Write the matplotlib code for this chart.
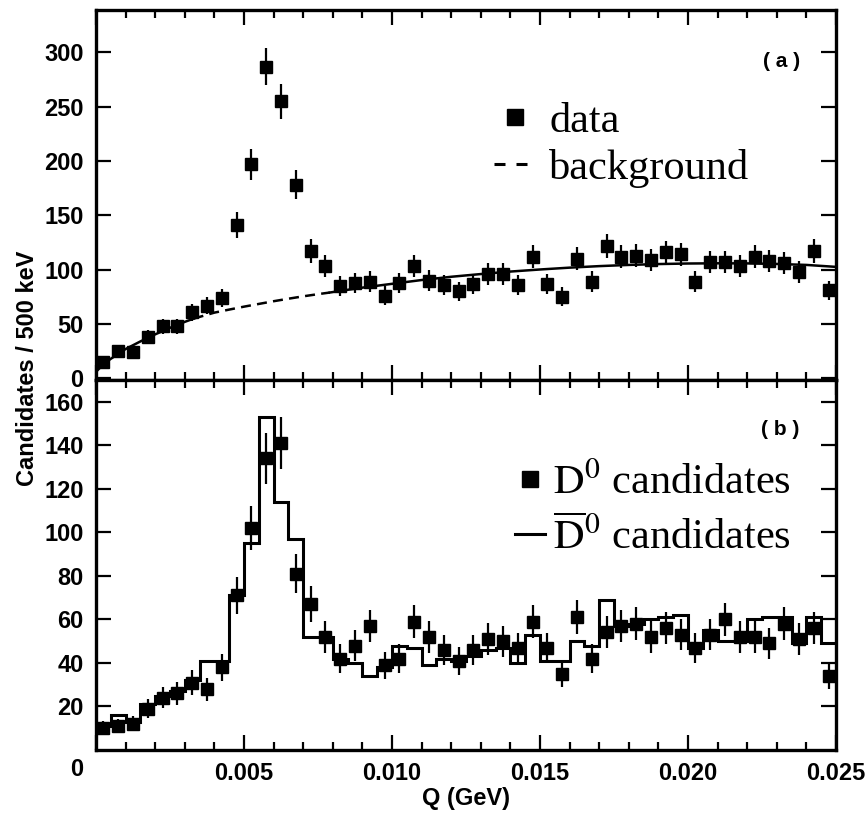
import numpy as np
import matplotlib
matplotlib.use("Agg")
import matplotlib.pyplot as plt
from matplotlib.lines import Line2D
from matplotlib.ticker import MultipleLocator, FixedLocator

plt.rcParams["font.family"] = ["Liberation Sans", "DejaVu Sans"]
plt.rcParams["mathtext.fontset"] = "stix"

# ── Data (500 keV bins from 0 to 25 MeV) ─────────────────────────────────────
bin_edges = np.linspace(0.0, 0.025, 51)
bin_centres = 0.5 * (bin_edges[:-1] + bin_edges[1:])

# (a) all candidates
data_a = [15, 25, 24, 38, 48, 48, 61, 67, 74, 141,
          197, 287, 255, 178, 117, 103, 85, 88, 89, 76,
          88, 103, 90, 86, 80, 87, 96, 96, 86, 112,
          87, 75, 110, 89, 122, 112, 113, 109, 116, 114,
          89, 107, 107, 103, 112, 108, 106, 98, 117, 81]

# background fit
bg_q = [0, 0.00025, 0.0005, 0.001, 0.0015, 0.002, 0.0025, 0.003, 0.0033,
        0.004, 0.0045, 0.005, 0.0055, 0.006, 0.0065, 0.007, 0.0075, 0.0079,
        0.0085, 0.009, 0.010, 0.011, 0.012, 0.013, 0.014, 0.015, 0.016,
        0.017, 0.018, 0.019, 0.020, 0.021, 0.022, 0.023, 0.024, 0.025]
bg_val = [6, 13, 18, 27, 34, 40.5, 46.5, 52, 55,
          60.5, 63.3, 66, 68.5, 71, 73.3, 75.5, 77.5, 79,
          81.5, 83.5, 87, 90.5, 93.5, 96, 98.3, 100.2, 101.9,
          103.3, 104.4, 105.2, 105.7, 105.9, 105.8, 105.3, 104.4, 102.6]
dash_from, dash_to = 0.0033, 0.0079

# (b) D0 candidates (points) and D0bar candidates (histogram)
d0 = [10, 11, 12, 19, 24, 26, 31, 28, 38, 71,
      102, 134, 141, 81, 67, 52, 42, 48, 57, 39,
      42, 59, 52, 46, 41, 46, 51, 50, 47, 59,
      47, 35, 61, 42, 54, 57, 58, 52, 56, 53,
      47, 53, 60, 52, 52, 49, 58, 51, 56, 34]
d0bar = [11, 16, 13, 21, 25, 27, 32, 41, 41, 71,
         95, 153, 114, 97, 52, 52, 42, 40, 34, 38,
         48, 47, 39, 42, 41, 43, 46, 47, 40, 53,
         41, 41, 50, 48, 69, 57, 58, 60, 61, 62,
         47, 55, 50, 50, 60, 61, 61, 49, 61, 49]

x_ticks = [0.0, 0.005, 0.010, 0.015, 0.020, 0.025]
x_ticklabels = ["", "0.005", "0.010", "0.015", "0.020", "0.025"]
ya_ticks = [0, 50, 100, 150, 200, 250, 300]
yb_ticks = [20, 40, 60, 80, 100, 120, 140, 160]

# ── Figure ───────────────────────────────────────────────────────────────────
fig = plt.figure(figsize=(8.68, 8.16), dpi=100, facecolor="white")
L, W = 96 / 868, 740 / 868
ax_a = fig.add_axes([L, 1 - 380 / 816, W, 370 / 816])
ax_b = fig.add_axes([L, 1 - 750 / 816, W, 370 / 816])

TICK_FONT = dict(fontsize=17, fontweight="bold")
LEG_FONT = {"family": "Liberation Serif", "size": 30.5}


def _frame(ax):
    for s in ax.spines.values():
        s.set_linewidth(2.4)
    ax.set_xlim(0, 0.025)
    ax.xaxis.set_major_locator(FixedLocator(x_ticks))
    ax.xaxis.set_minor_locator(MultipleLocator(0.001))
    ax.tick_params(which="both", direction="in", top=True, right=True, width=1.6)
    ax.tick_params(which="major", length=11, pad=9)
    ax.tick_params(which="minor", length=6)


# panel (a)
q = np.asarray(bg_q)
v = np.asarray(bg_val)
ax_a.errorbar(bin_centres, data_a, yerr=np.sqrt(data_a), fmt="s", color="black",
              ms=8, elinewidth=1.6, capsize=0, zorder=3)
lo = q <= dash_from
mid = (q >= dash_from) & (q <= dash_to)
hi = q >= dash_to
ax_a.plot(q[lo], v[lo], color="black", lw=1.8)
ax_a.plot(q[mid], v[mid], color="black", lw=1.8, dashes=(4, 2.5))
ax_a.plot(q[hi], v[hi], color="black", lw=1.8)
ax_a.set_ylim(-1.5, 339)
ax_a.set_yticks(ya_ticks)
ax_a.set_yticklabels([str(t) for t in ya_ticks], **TICK_FONT)
_frame(ax_a)
ax_a.set_xticklabels([])
ax_a.text(0.951, 0.86, "( a )", transform=ax_a.transAxes, ha="right", va="center",
          fontsize=15, fontweight="bold")
ax_a.legend(
    handles=[Line2D([], [], ls="none", marker="s", color="black", ms=11),
             Line2D([], [], color="black", lw=2.2, dashes=(3.6, 3.6))],
    labels=["data", "background"],
    loc="upper left", bbox_to_anchor=(0.538, 0.75), frameon=False,
    prop=LEG_FONT, handlelength=1.0, handletextpad=0.3, labelspacing=0.18,
    borderpad=0, borderaxespad=0)

# panel (b)
ax_b.stairs(d0bar, bin_edges, color="black", lw=2.2, baseline=None, zorder=2)
ax_b.errorbar(bin_centres, d0, yerr=np.sqrt(d0), fmt="s", color="black",
              ms=8, elinewidth=1.6, capsize=0, zorder=3)
ax_b.set_ylim(0, 170)
ax_b.set_yticks(yb_ticks)
ax_b.set_yticklabels([str(t) for t in yb_ticks], **TICK_FONT)
_frame(ax_b)
ax_b.set_xticklabels(x_ticklabels, **TICK_FONT)
ax_b.text(0.951, 0.865, "( b )", transform=ax_b.transAxes, ha="right", va="center",
          fontsize=15, fontweight="bold")
ax_b.legend(
    handles=[Line2D([], [], ls="none", marker="s", color="black", ms=11),
             Line2D([], [], color="black", lw=2.2)],
    labels=[r"$\mathrm{D}^0$ candidates", r"$\overline{\mathrm{D}}^0$ candidates"],
    loc="upper left", bbox_to_anchor=(0.566, 0.775), frameon=False,
    prop=LEG_FONT, handlelength=0.72, handletextpad=0.17, labelspacing=0.32,
    borderpad=0, borderaxespad=0)

fig.text(77 / 868, 1 - 770 / 816, "0", ha="center", va="center", **TICK_FONT)
fig.text(28 / 868, 0.549, "Candidates / 500 keV", rotation=90, ha="center",
         va="center", **TICK_FONT)
fig.text(466 / 868, 1 - 798 / 816, "Q (GeV)", ha="center", va="center", **TICK_FONT)

fig.savefig("out.png", dpi=100, facecolor="white")
